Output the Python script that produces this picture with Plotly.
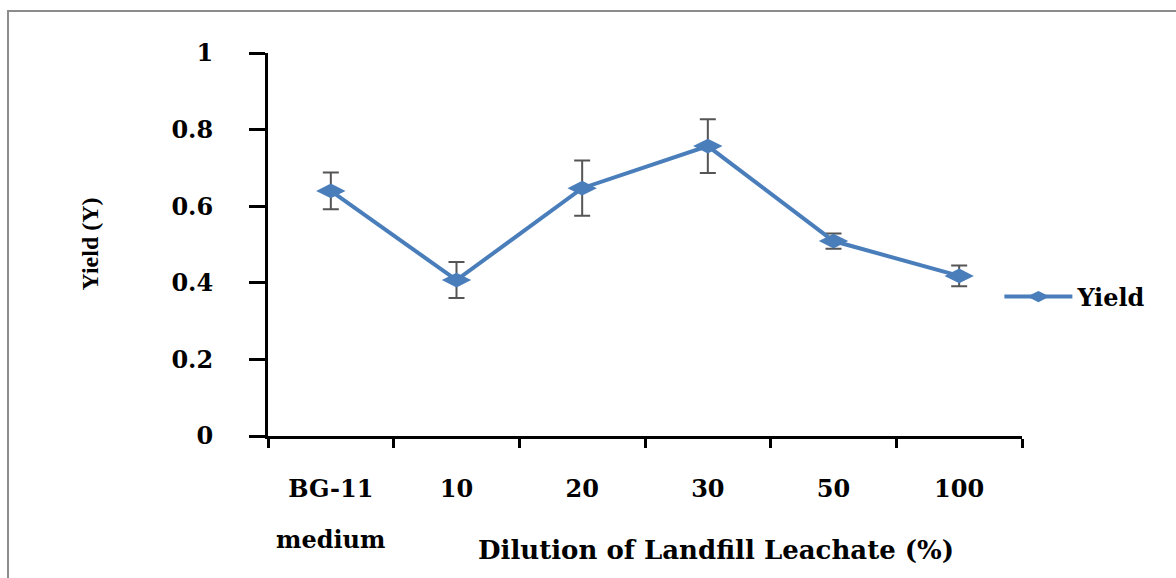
import plotly.graph_objects as go

categories = ["BG-11", "10", "20", "30", "50", "100"]
first_category_second_line = "medium"
yield_values = [0.64, 0.407, 0.647, 0.757, 0.509, 0.418]
yield_errors = [0.048, 0.047, 0.072, 0.070, 0.020, 0.027]
y_ticks = [0, 0.2, 0.4, 0.6, 0.8, 1]
y_tick_labels = ["0", "0.2", "0.4", "0.6", "0.8", "1"]

BLUE = "#4A7EBB"
FONT_W = dict(family="DejaVu Serif", size=24, color="black", weight="bold")

fig = go.Figure()
fig.add_trace(go.Scatter(
    x=categories, y=yield_values, name="Yield", mode="lines+markers",
    line=dict(color=BLUE, width=4),
    marker=dict(symbol="diamond-wide", size=21, color=BLUE),
    error_y=dict(type="data", array=yield_errors, visible=True,
                 color="#555555", thickness=2, width=8),
))

fig.update_layout(
    width=1176, height=578,
    margin=dict(l=268, r=154, t=53, b=142),
    paper_bgcolor="white", plot_bgcolor="white",
    showlegend=True,
    legend=dict(x=0.97, y=0.363, xanchor="left", yanchor="middle",
                font=FONT_W, bgcolor="rgba(0,0,0,0)", itemwidth=68),
    xaxis=dict(type="category", range=[-0.5, len(categories) - 0.5],
               showgrid=False, zeroline=False,
               showline=True, linecolor="black", linewidth=3,
               ticks="outside", tickson="boundaries", ticklen=9, tickwidth=3,
               tickcolor="black", tickfont=FONT_W, ticklabelstandoff=29),
    yaxis=dict(range=[0, 1], tickvals=y_ticks, ticktext=y_tick_labels,
               showgrid=False, zeroline=False, showline=True,
               linecolor="black", linewidth=3, ticks="outside", ticklen=16,
               tickwidth=3, tickcolor="black", tickfont=FONT_W,
               ticklabelstandoff=31),
    annotations=[
        dict(text=first_category_second_line, xref="x", yref="paper",
             x=categories[0], y=-0.2715, xanchor="center", yanchor="middle",
             showarrow=False, font=FONT_W),
        dict(text="Dilution of Landfill Leachate (%)", xref="paper", yref="paper",
             x=0.594, y=-0.2977, xanchor="center", yanchor="middle",
             showarrow=False, font=dict(FONT_W, size=26)),
        dict(text="Yield (Y)", xref="paper", yref="paper", x=-0.2374, y=0.5,
             xanchor="center", yanchor="middle", textangle=-90, showarrow=False,
             font=dict(family="Liberation Serif", size=24, color="black", weight="bold")),
    ],
    shapes=[
        dict(type="path", xref="paper", yref="paper",
             path="M -0.3448,-0.40 L -0.3448,1.1097 L 1.21,1.1097",
             line=dict(color="#8c8c8c", width=2)),
    ],
)

fig.write_html("out.html")
